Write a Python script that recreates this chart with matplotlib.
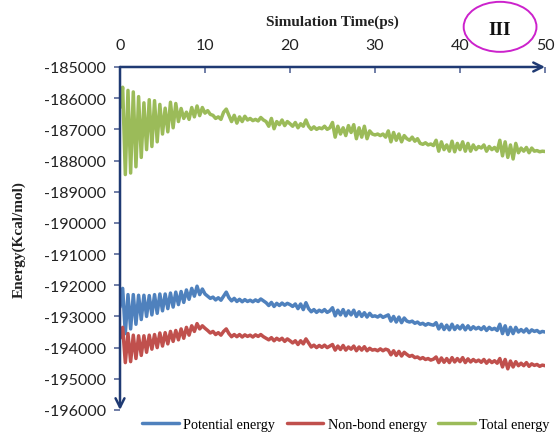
import numpy as np
import matplotlib
matplotlib.use("Agg")
import matplotlib.pyplot as plt
from matplotlib.patches import Ellipse
from matplotlib.ticker import MultipleLocator, FormatStrFormatter

plt.rcParams["axes.unicode_minus"] = False

# Sampling grid of the trajectory (ps)
time_step = 0.3125
n_frames = 161
time_ps = np.arange(n_frames) * time_step

potential_energy = [
    -192700, -192100, -193550, -192300, -193400, -192300, -193250, -192320, -193100, -192320,
    -193000, -192330, -192950, -192300, -192900, -192280, -192820, -192280, -192750, -192250,
    -192700, -192220, -192620, -192200, -192550, -192150, -192450, -192100, -192350, -192030,
    -192300, -192120, -192280, -192350, -192420, -192380, -192470, -192400, -192480, -192350,
    -192220, -192400, -192500, -192420, -192520, -192450, -192530, -192460, -192520, -192480,
    -192530, -192470, -192520, -192440, -192500, -192560, -192650, -192550, -192680, -192580,
    -192650, -192570, -192640, -192580, -192620, -192680, -192600, -192750, -192600, -192780,
    -192560, -192750, -192850, -192780, -192870, -192800, -192850, -192780, -192870, -192820,
    -192720, -192980, -192800, -192950, -192780, -192980, -192820, -192950, -192800, -193000,
    -192850, -193000, -192880, -193020, -192900, -193000, -192980, -193020, -192960, -193030,
    -192990, -192950, -193150, -193000, -193180, -193020, -193200, -193050, -193150, -193180,
    -193150, -193220, -193180, -193250, -193220, -193280, -193230, -193260, -193280, -193200,
    -193400, -193250, -193420, -193280, -193430, -193250, -193420, -193300, -193400, -193280,
    -193430, -193300, -193420, -193330, -193400, -193350, -193420, -193330, -193450, -193350,
    -193420, -193380, -193450, -193250, -193550, -193300, -193580, -193350, -193550, -193350,
    -193500, -193420, -193500, -193400, -193520, -193430, -193480, -193450, -193520, -193480,
    -193500,
]

nonbond_energy = [
    -193700, -193350, -194480, -193550, -194450, -193600, -194350, -193620, -194250, -193620,
    -194150, -193600, -194050, -193580, -194000, -193530, -193950, -193520, -193880, -193480,
    -193800, -193450, -193750, -193400, -193700, -193350, -193600, -193300, -193480, -193230,
    -193400, -193300, -193380, -193450, -193530, -193480, -193580, -193520, -193600, -193480,
    -193400, -193550, -193650, -193580, -193650, -193580, -193660, -193590, -193640, -193600,
    -193660, -193590, -193640, -193580, -193650, -193700, -193750, -193680, -193780, -193700,
    -193760, -193700, -193800, -193720, -193780, -193850, -193780, -193900, -193780, -193880,
    -193720, -193850, -193980, -193920, -194000, -193930, -193990, -193920, -194000, -193950,
    -193900, -194080, -193950, -194060, -193930, -194080, -193980, -194050, -193950, -194100,
    -193980, -194080, -193970, -194100, -194020, -194080, -194060, -194100, -194040, -194100,
    -194050, -194080, -194230, -194100, -194250, -194120, -194270, -194150, -194220, -194280,
    -194250, -194320, -194300, -194360, -194320, -194380, -194350, -194400, -194370, -194300,
    -194480, -194330, -194470, -194350, -194480, -194320, -194460, -194350, -194450, -194320,
    -194480, -194360, -194460, -194380, -194450, -194400, -194470, -194380, -194500, -194400,
    -194480, -194420, -194500, -194350, -194620, -194380, -194680, -194430, -194620, -194450,
    -194580, -194500, -194580, -194480, -194600, -194520, -194570, -194540, -194600, -194560,
    -194580,
]

total_energy = [
    -186300, -185650, -188450, -185750, -188400, -185800, -188200, -185950, -187900, -186150,
    -187650, -186050, -187550, -186080, -187400, -186200, -187150, -186320, -187080, -186130,
    -186950, -186170, -186750, -186330, -186650, -186450, -186680, -186300, -186600, -186250,
    -186560, -186300, -186480, -186400, -186520, -186550, -186650, -186600, -186680, -186450,
    -186350, -186550, -186750, -186550, -186800, -186600, -186750, -186580, -186700, -186650,
    -186720, -186680, -186730, -186620, -186700, -186750, -186900, -186650, -186980, -186750,
    -186850, -186700, -186880, -186750, -186820, -186900, -186780, -186950, -186820, -186900,
    -186700, -186900, -187000, -186920, -187000, -186950, -186980, -186900, -187000, -186950,
    -186780, -187250, -186900, -187150, -186950, -187200, -186880, -187100, -186850, -187300,
    -186950, -187250, -186900, -187300, -187050, -187150, -187180, -187150, -187200, -187150,
    -187250, -187050, -187400, -187100, -187350, -187150, -187400, -187200, -187300, -187350,
    -187250, -187380, -187300, -187450, -187480, -187430, -187500, -187470, -187520, -187350,
    -187700, -187400, -187650, -187500, -187700, -187380, -187720, -187450, -187650, -187400,
    -187700, -187450, -187700, -187500, -187650, -187550, -187600, -187500, -187700, -187550,
    -187650, -187580, -187700, -187350, -187850, -187400, -187900, -187500, -187950, -187450,
    -187750, -187600, -187700, -187580, -187750, -187600, -187700, -187680, -187720, -187700,
    -187710,
]

series_labels = ["Potential energy", "Non-bond energy", "Total energy"]
series_colors = ["#4F81BD", "#C0504D", "#9BBB59"]
x_ticks = [0, 10, 20, 30, 40, 50]

navy = "#1F3A73"
tick_color = "#6474A0"

fig = plt.figure(figsize=(5.6, 4.35), dpi=100)
ax = fig.add_axes([0.2143, 0.0552, 0.7589, 0.7885])

for values, label, color in zip([potential_energy, nonbond_energy, total_energy],
                                series_labels, series_colors):
    ax.plot(time_ps, values, color=color, lw=2.5, label=label,
            solid_joinstyle="round", solid_capstyle="round")

ax.set_xlim(0, 50)
ax.set_ylim(-196000, -185000)
ax.yaxis.set_major_locator(MultipleLocator(1000))
ax.yaxis.set_major_formatter(FormatStrFormatter("%d"))
ax.set_xticks(x_ticks)

ax.xaxis.tick_top()
ax.xaxis.set_label_position("top")
for side in ["left", "right", "top", "bottom"]:
    ax.spines[side].set_visible(False)

ax.tick_params(axis="y", direction="out", length=4, width=1.3, color=tick_color,
               pad=6, labelcolor="#222222")
ax.tick_params(axis="x", direction="in", length=4, width=1.3, color=tick_color,
               pad=11, labelcolor="#222222")
for lbl in ax.get_yticklabels() + ax.get_xticklabels():
    lbl.set_fontfamily("Lato")
    lbl.set_fontsize(11.5)

# axis lines with arrow heads
arrow_kw = dict(arrowstyle="->", lw=1.8, color=navy, mutation_scale=16,
                shrinkA=0, shrinkB=0)
ax.annotate("", xy=(1.0, 1.0), xytext=(0.0, 1.0), xycoords="axes fraction",
            arrowprops=arrow_kw, annotation_clip=False, zorder=5)
ax.annotate("", xy=(0.0, 0.0), xytext=(0.0, 1.0), xycoords="axes fraction",
            arrowprops=arrow_kw, annotation_clip=False, zorder=5)

ax.set_xlabel("Simulation Time(ps)", family="Liberation Serif", weight="bold",
              fontsize=11, labelpad=9, color="#222222")
ax.set_ylabel("Energy(Kcal/mol)", family="Liberation Serif", weight="bold",
              fontsize=11, labelpad=13, color="#222222")

fig.legend(loc="center", bbox_to_anchor=(0.618, 0.021), ncol=3, frameon=False,
           prop=dict(family="Liberation Serif", size=10.2), handlelength=2.6,
           handletextpad=0.3, columnspacing=0.8, borderpad=0.2)

ring = Ellipse((0.893, 0.936), 0.130, 0.115, transform=fig.transFigure,
               fill=False, edgecolor="#CC22CC", lw=1.4)
fig.add_artist(ring)
fig.text(0.893, 0.930, "III", family="Liberation Serif", weight="bold",
         fontsize=14, ha="center", va="center", color="#111111")

fig.savefig("out.png", dpi=100)
